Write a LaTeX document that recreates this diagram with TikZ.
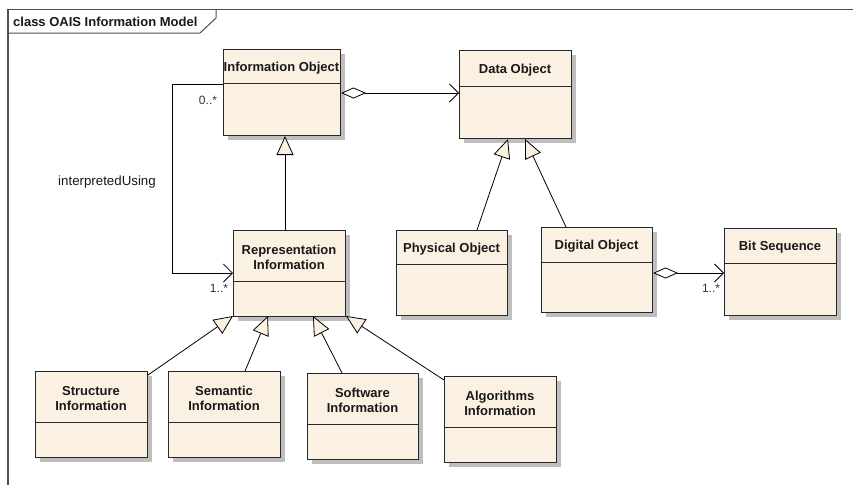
\documentclass[tikz,border=0pt]{standalone}
\usepackage{fontspec}
\setmainfont{Liberation Sans}
\usetikzlibrary{arrows.meta,shadows}

\definecolor{boxfill}{RGB}{251,241,227}
\definecolor{boxline}{RGB}{40,40,40}
\definecolor{frameline}{RGB}{80,80,80}
\definecolor{shadowgray}{RGB}{190,190,190}

\tikzset{
  classbox/.style={draw=boxline, line width=1pt, fill=boxfill, rectangle, inner sep=0pt,
    anchor=north west,
    drop shadow={shadow xshift=4pt, shadow yshift=-4pt, fill=shadowgray, opacity=1}},
  classtitle/.style={font=\fontsize{13}{15.5}\selectfont\bfseries, align=center, inner sep=0pt, text=black!90},
  divider/.style={draw=boxline, line width=1pt},
  conn/.style={draw=black, line width=0.8pt},
  generalize/.style={conn, -{Triangle[open, length=19pt, width=17pt, fill=boxfill]}},
  aggregate/.style={conn, {Diamond[open, length=25pt, width=11pt, fill=white]}-{Straight Barb[length=9pt, width=18pt]}},
  assoc/.style={conn, -{Straight Barb[length=9pt, width=18pt]}},
  mult/.style={font=\fontsize{12}{14}\selectfont, inner sep=0pt, text=black!80},
  roletext/.style={font=\fontsize{13.3}{15}\selectfont, inner sep=0pt, text=black!90},
}

% \umlclass{name}{x1}{y1}{x2}{y2}{divider y}{title}
\newcommand{\umlclass}[7]{%
  \node[classbox, minimum width={(#4-#2)*1pt}, minimum height={(#5-#3)*1pt}] (#1) at (#2,#3) {};
  \draw[divider] (#2,#6) -- (#4,#6);
  \node[classtitle] (#1-title) at ({(#2+#4)/2},{(#3+#6)/2+2}) {#7};
}

\begin{document}
\begin{tikzpicture}[x=1pt, y=-1pt]
\useasboundingbox (0,0) rectangle (853,485);
\fill[white] (0,0) rectangle (853,485);

% diagram frame and its name tab
\draw[frameline, line width=1.4pt] (8,485) -- (8,9.5) -- (853,9.5);
\draw[frameline, line width=1pt] (8,33) -- (200,33) -- (216,18) -- (216,9.5);
\node[classtitle, anchor=west] (frametitle) at (13,22) {class OAIS Information Model};

% classes
\umlclass{IO}{223}{49}{340}{135}{83}{Information Object}
\umlclass{DO}{459}{50}{571}{138}{86}{Data Object}
\umlclass{RI}{233}{230}{345}{316}{281}{Representation\\Information}
\umlclass{PO}{396}{230}{507}{315}{264}{Physical Object}
\umlclass{DgO}{541}{227}{652}{312}{262}{Digital Object}
\umlclass{BS}{724}{228}{836}{315}{263}{Bit Sequence}
\umlclass{SI}{35}{371}{147}{457}{422}{Structure\\Information}
\umlclass{SeI}{168}{371}{280}{457}{422}{Semantic\\Information}
\umlclass{SwI}{307}{373}{418}{459}{424}{Software\\Information}
\umlclass{AI}{444}{376}{556}{462}{427}{Algorithms\\Information}

% aggregations
\draw[aggregate] (IO.east |- 0,93) -- (DO.west |- 0,93);
\draw[aggregate] (DgO.east |- 0,273) -- (BS.west |- 0,273);

% interpretedUsing association
\draw[assoc] (IO.west |- 0,84) -- (172,84) -- (172,273) -- (RI.west |- 0,273);
\node[roletext] (iulabel) at (107,182) {interpretedUsing};
\node[mult] (m0) at (208,100) {0..*};
\node[mult] (m1) at (219,288) {1..*};
\node[mult] (m2) at (711,288) {1..*};

% generalizations
\draw[generalize] (RI.north -| 285,0) -- (IO.south -| 285,0);
\draw[generalize] (PO.north -| 477,0) -- (DO.south -| 508,0);
\draw[generalize] (DgO.north -| 566,0) -- (DO.south -| 525,0);
\draw[generalize] (SI.north east |- 0,375) -- (233,316);
\draw[generalize] (SeI.north -| 245,0) -- (268,316);
\draw[generalize] (SwI.north -| 342,0) -- (313,316);
\draw[generalize] (AI.north west |- 0,380) -- (346,316);
\end{tikzpicture}
\end{document}
